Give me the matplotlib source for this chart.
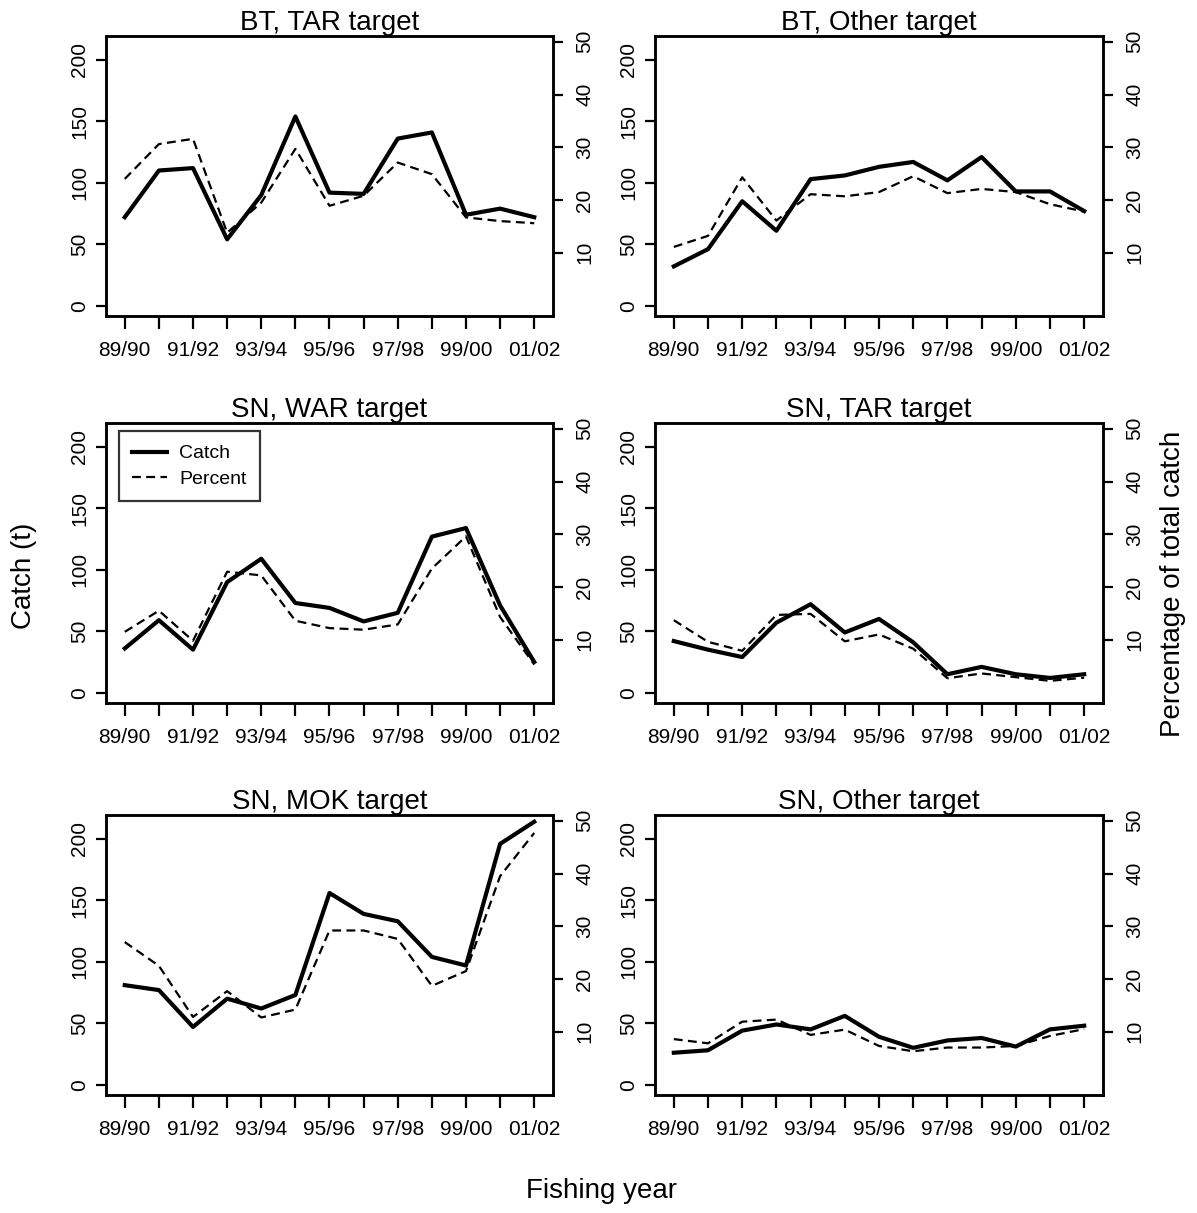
import matplotlib
matplotlib.use("Agg")
import matplotlib.pyplot as plt

plt.rcParams['font.family'] = ['Liberation Sans', 'DejaVu Sans']

years = ["89/90", "90/91", "91/92", "92/93", "93/94", "94/95", "95/96",
         "96/97", "97/98", "98/99", "99/00", "00/01", "01/02"]

titles = ["BT, TAR target", "BT, Other target",
          "SN, WAR target", "SN, TAR target",
          "SN, MOK target", "SN, Other target"]

# catch (t) by fishing year
catch_bt_tar = [72, 110, 112, 54, 90, 154, 92, 91, 136, 141, 74, 79, 72]
catch_bt_oth = [32, 46, 85, 61, 103, 106, 113, 117, 102, 121, 93, 93, 77]
catch_sn_war = [36, 59, 35, 90, 109, 73, 69, 58, 65, 127, 134, 71, 25]
catch_sn_tar = [42, 35, 29, 57, 72, 49, 60, 41, 15, 21, 15, 12, 15]
catch_sn_mok = [81, 77, 47, 70, 62, 73, 156, 139, 133, 104, 97, 196, 214]
catch_sn_oth = [26, 28, 44, 49, 45, 56, 39, 30, 36, 38, 31, 45, 48]

# percentage of total catch
pct_bt_tar = [24.0, 30.6, 31.6, 13.8, 19.5, 29.7, 18.9, 20.8, 27.1, 24.9, 16.7, 16.0, 15.6]
pct_bt_oth = [11.1, 13.2, 24.3, 16.1, 21.1, 20.7, 21.5, 24.5, 21.3, 22.1, 21.5, 19.2, 17.8]
pct_sn_war = [11.5, 15.5, 9.8, 22.9, 22.2, 13.6, 12.2, 11.9, 12.9, 23.5, 29.6, 14.3, 5.3]
pct_sn_tar = [13.7, 9.6, 7.9, 14.7, 14.9, 9.7, 11.0, 8.3, 2.7, 3.6, 2.9, 2.2, 2.8]
pct_sn_mok = [27.0, 22.5, 12.8, 17.7, 12.7, 14.2, 29.2, 29.2, 27.6, 18.7, 21.5, 39.5, 47.7]
pct_sn_oth = [8.6, 7.8, 11.9, 12.3, 9.4, 10.4, 7.3, 6.3, 7.0, 7.0, 7.3, 9.2, 10.5]

catches = [catch_bt_tar, catch_bt_oth, catch_sn_war, catch_sn_tar, catch_sn_mok, catch_sn_oth]
percents = [pct_bt_tar, pct_bt_oth, pct_sn_war, pct_sn_tar, pct_sn_mok, pct_sn_oth]

W, H = 1197, 1213
fig = plt.figure(figsize=(W / 100, H / 100), dpi=100)

# panel frames in pixels: left, top, width, height
col_x = [(106, 447), (655, 448)]
row_y = [36, 423, 815]
ph = 280

x = list(range(1, 14))
xlabels = [y if i % 2 == 0 else "" for i, y in enumerate(years)]

SOLID_LW = 3.0
DASH_LW = 1.6
DASHES = (4, 2.4)

for k in range(6):
    r, c = divmod(k, 2)
    px, pw = col_x[c]
    py = row_y[r]
    ax = fig.add_axes([px / W, 1 - (py + ph) / H, pw / W, ph / H])
    ax2 = ax.twinx()

    ax.plot(x, catches[k], color='black', lw=SOLID_LW)
    ax2.plot(x, percents[k], color='black', lw=DASH_LW, dashes=DASHES)

    ax.set_xlim(0.45, 13.55)
    ax.set_ylim(-8.4, 219.5)
    ax2.set_ylim(-2.0, 51.1)

    ax.set_xticks(x)
    ax.set_xticklabels(xlabels)
    ax.set_yticks([0, 50, 100, 150, 200])
    ax.set_yticklabels(["0", "50", "100", "150", "200"], rotation=90, va='center')
    ax2.set_yticks([10, 20, 30, 40, 50])
    ax2.set_yticklabels(["10", "20", "30", "40", "50"], rotation=90, va='center')

    for a in (ax, ax2):
        a.tick_params(direction='out', length=7, width=1.6, labelsize=15, pad=5)
        for s in a.spines.values():
            s.set_linewidth(1.8)
    ax.tick_params(axis='x', length=9, pad=9)
    ax2.tick_params(axis='y', pad=9)

    ax.set_title(titles[k], fontsize=20, pad=2)

    if k == 2:
        ax.plot([], [], color='black', lw=SOLID_LW, label='Catch')
        ax.plot([], [], color='black', lw=DASH_LW, dashes=DASHES, label='Percent')
        leg = ax.legend(loc='upper left', bbox_to_anchor=(0.02, 0.985), fontsize=14,
                        frameon=True, fancybox=False, edgecolor='black',
                        handlelength=1.8, handletextpad=0.6, borderpad=0.7,
                        borderaxespad=0.2, labelspacing=0.4)
        leg.get_frame().set_linewidth(1.6)

fig.text(24 / W, 1 - 576 / H, "Catch (t)", rotation=90, fontsize=20,
         ha='center', va='center')
fig.text(1173 / W, 1 - 584 / H, "Percentage of total catch", rotation=90,
         fontsize=20, ha='center', va='center')
fig.text(601 / W, 1 - 1191 / H, "Fishing year", fontsize=20,
         ha='center', va='center')

fig.savefig("out.png", dpi=100)
